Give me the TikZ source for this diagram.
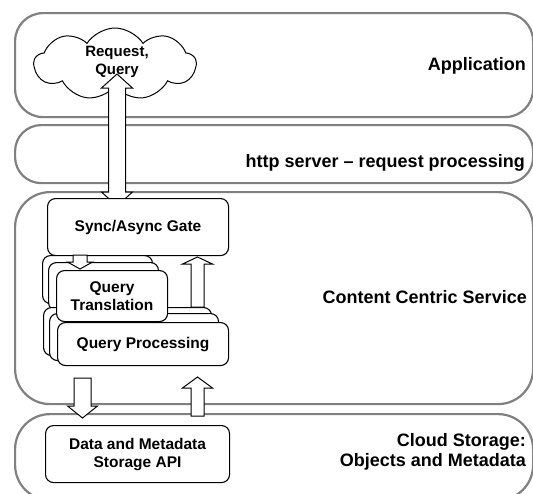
\documentclass[tikz,border=0pt]{standalone}
\usepackage{fontspec}
\setmainfont{Liberation Sans}
\usetikzlibrary{shapes.symbols}
\definecolor{laygray}{RGB}{128,128,128}
\newcommand\blockarr[6]{% x, ytail, ybase, ytip, shaft half, head half
  \draw[arrline] (#1-#5,#2) -- (#1-#5,#3) -- (#1-#6,#3) -- (#1,#4) -- (#1+#6,#3) -- (#1+#5,#3) -- (#1+#5,#2) -- cycle;}
\begin{document}
\begin{tikzpicture}[x=1pt,y=-1pt,
  layer/.style={draw=laygray, line width=2.2pt, rounded corners=#1, anchor=north west, inner sep=0pt},
  layer/.default=30pt,
  lbl/.style={font=\fontsize{18}{20.5}\selectfont\bfseries, inner sep=0pt, align=right},
  box/.style={draw, line width=1.1pt, rounded corners=8pt, fill=white, anchor=north west, inner sep=0pt,
    font=\fontsize{15.5}{18}\selectfont\bfseries, align=center},
  arrline/.style={draw, fill=white, line width=1pt, line join=miter}]
\useasboundingbox (0,0) rectangle (533,493);
\clip (0,0) rectangle (533,493);
% layers
\node[layer=28pt, minimum width=518pt, minimum height=104pt] (app) at (14,12) {};
\node[layer=26pt, minimum width=518pt, minimum height=58pt] (http) at (14,124) {};
\node[layer=35pt, minimum width=518pt, minimum height=212pt] (ccs) at (14,191) {};
\node[layer=35pt, minimum width=518pt, minimum height=86pt] (store) at (14,413) {};
% layer labels
\node[lbl, anchor=base east] (applbl) at (526,70) {Application};
\node[lbl, anchor=base east] (httplbl) at (525,167) {http server -- request processing};
\node[lbl, anchor=base east] (ccslbl) at (527,303) {Content Centric Service};
\node[lbl, anchor=east] (storelbl) at (526,452) {Cloud Storage:\\Objects and Metadata};
% cloud
\node[cloud, draw, line width=1pt, fill=white, cloud puffs=9, cloud puff arc=115, aspect=2.3,
  minimum width=162pt, minimum height=72pt, inner sep=0pt] (req) at (115,64) {};
% main double arrow
\draw[arrline] (117,74) -- (132.5,88) -- (125.5,88) -- (125.5,192) -- (132.5,192) -- (117,206)
  -- (101.5,192) -- (108.5,192) -- (108.5,88) -- (101.5,88) -- cycle;
\node[font=\fontsize{15}{18}\selectfont\bfseries, align=center, inner sep=0pt] (reqtxt) at (117,62) {Request,\\Query};
% gate
\node[box, minimum width=181pt, minimum height=57pt] (gate) at (47,198) {Sync/Async Gate};
% stacks
\node[box, minimum width=110pt, minimum height=48pt] (tb) at (42,255) {};
\node[box, minimum width=110pt, minimum height=48pt] (tm) at (48,262) {};
\node[box, minimum width=168pt, minimum height=48pt] (pb) at (43,307) {};
\node[box, minimum width=169pt, minimum height=47pt] (pm) at (49,313) {};
\node[box, minimum width=111pt, minimum height=51pt] (tf) at (56,270) {Query\\Translation};
\node[box, minimum width=171pt, minimum height=43pt] (pf) at (57,322) {Query Processing};
% small arrows
\blockarr{80}{255}{262}{269}{7}{12.5}
\blockarr{197.5}{307}{264}{257}{6.5}{15}
% storage API
\node[box, minimum width=184pt, minimum height=57pt] (api) at (45,425) {Data and Metadata\\Storage API};
\blockarr{82.5}{378}{406}{418}{8.5}{15}
\blockarr{197.5}{416}{388}{377}{6.5}{15}
\end{tikzpicture}
\end{document}
